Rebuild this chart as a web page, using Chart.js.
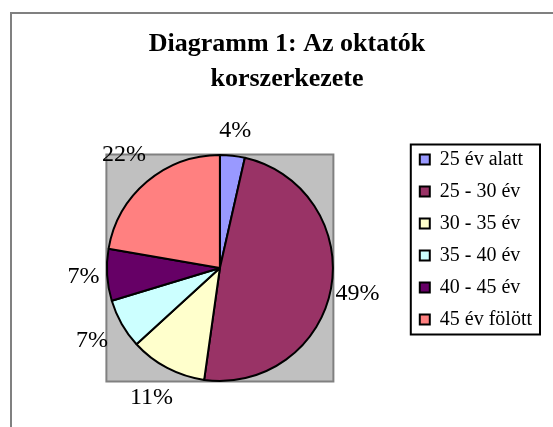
<!DOCTYPE html>
<html>
<head>
<meta charset="utf-8">
<script src="https://cdn.jsdelivr.net/npm/chart.js@4.4.1/dist/chart.umd.min.js"></script>
<style>
  html, body { margin: 0; padding: 0; background: #fff; }
  canvas { display: block; }
</style>
</head>
<body>
<canvas id="ageChart" width="553" height="427"></canvas>
<script>
const titleLines = ['Diagramm 1: Az oktatók', 'korszerkezete'];
const ageGroups = ['25 év alatt', '25 - 30 év', '30 - 35 év', '35 - 40 év', '40 - 45 év', '45 év fölött'];
const shares = [3.55, 48.7, 11.0, 7.1, 7.4, 22.3];
const sliceColors = ['#9999FF', '#993366', '#FFFFCC', '#CCFFFF', '#660066', '#FF8080'];

const serif = "'Liberation Serif', 'Times New Roman', serif";

// outer frame, grey plot square behind the pie, box round the legend
const decorPlugin = {
    id: 'decor',
    beforeDraw(chart) {
        const ctx = chart.ctx;
        ctx.save();
        ctx.fillStyle = '#808080';
        ctx.fillRect(10, 12, chart.width - 10, 2);
        ctx.fillRect(10, 12, 2, chart.height - 12);
        ctx.restore();
    },
    beforeDatasetsDraw(chart) {
        const arc = chart.getDatasetMeta(0).data[0];
        if (!arc) return;
        const { x, y, outerRadius } = arc.getProps(['x', 'y', 'outerRadius'], true);
        const half = outerRadius + 0.5;
        const ctx = chart.ctx;
        ctx.save();
        ctx.fillStyle = '#C0C0C0';
        ctx.fillRect(x - half, y - half, half * 2, half * 2);
        ctx.strokeStyle = '#808080';
        ctx.lineWidth = 2;
        ctx.strokeRect(x - half, y - half, half * 2, half * 2);
        ctx.restore();
    },
    afterDraw(chart) {
        const boxes = chart.legend.legendHitBoxes;
        if (!boxes || !boxes.length) return;
        const last = boxes[boxes.length - 1];
        const left = boxes[0].left - 9;
        const top = boxes[0].top - 5;
        const right = Math.max(...boxes.map(b => b.left + b.width)) + 8;
        const bottom = last.top + last.height + 5;
        const ctx = chart.ctx;
        ctx.save();
        ctx.strokeStyle = '#000';
        ctx.lineWidth = 2;
        ctx.strokeRect(left, top, right - left, bottom - top);
        ctx.restore();
    }
};

// percentage labels outside the slices (pushed out a bit more on the diagonals)
const sliceLabels = {
    id: 'sliceLabels',
    afterDatasetsDraw(chart) {
        const meta = chart.getDatasetMeta(0);
        const total = shares.reduce((a, b) => a + b, 0);
        const ctx = chart.ctx;
        ctx.save();
        ctx.font = '24px ' + serif;
        ctx.fillStyle = '#000';
        ctx.textAlign = 'center';
        ctx.textBaseline = 'middle';
        meta.data.forEach((arc, i) => {
            const { x, y, startAngle, endAngle, outerRadius } =
                arc.getProps(['x', 'y', 'startAngle', 'endAngle', 'outerRadius'], true);
            const mid = (startAngle + endAngle) / 2;
            const text = Math.round(shares[i] / total * 100) + '%';
            const d = outerRadius + 22 + 14 * Math.abs(Math.sin(2 * mid));
            ctx.fillText(text, x + Math.cos(mid) * d, y + Math.sin(mid) * d);
        });
        ctx.restore();
    }
};

new Chart(document.getElementById('ageChart'), {
    type: 'pie',
    data: {
        labels: ageGroups,
        datasets: [{
            data: shares,
            backgroundColor: sliceColors,
            borderColor: '#000',
            borderWidth: 2,
            radius: 113
        }]
    },
    options: {
        responsive: false,
        animation: false,
        events: [],
        layout: { padding: { left: 32, right: 11, top: 0, bottom: 28.5 } },
        plugins: {
            title: {
                display: true,
                text: titleLines,
                color: '#000',
                font: { family: serif, size: 26, weight: 'bold', lineHeight: '35px' },
                padding: { top: 27, bottom: 40.5 }
            },
            legend: {
                position: 'right',
                align: 'start',
                fullSize: false,
                labels: {
                    color: '#000',
                    font: { family: serif, size: 20 },
                    boxWidth: 10,
                    boxHeight: 10,
                    padding: 12
                }
            },
            tooltip: { enabled: false }
        }
    },
    plugins: [decorPlugin, sliceLabels]
});
</script>
</body>
</html>
